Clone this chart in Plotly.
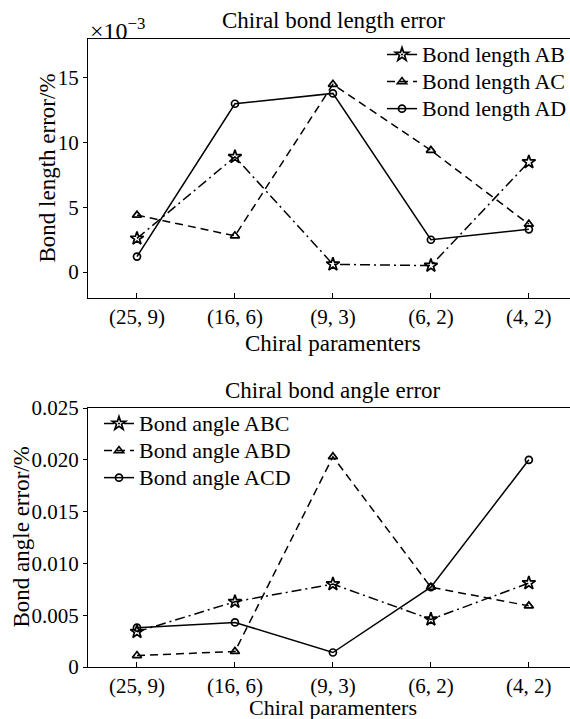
import plotly.graph_objects as go

# ---------------- data ----------------
categories = ["(25, 9)", "(16, 6)", "(9, 3)", "(6, 2)", "(4, 2)"]

# bond length errors, in units of 10^-3 %
length_AB = [2.6, 8.9, 0.6, 0.5, 8.5]
length_AC = [4.4, 2.8, 14.5, 9.4, 3.7]
length_AD = [1.2, 13.0, 13.8, 2.5, 3.3]

# bond angle errors, in %
angle_ABC = [0.0034, 0.0063, 0.0080, 0.0046, 0.0081]
angle_ABD = [0.0011, 0.0015, 0.0203, 0.0077, 0.0059]
angle_ACD = [0.0038, 0.0043, 0.0014, 0.0077, 0.0200]

length_names = ["Bond length AB", "Bond length AC", "Bond length AD"]
angle_names = ["Bond angle ABC", "Bond angle ABD", "Bond angle ACD"]

top_ticks = [0, 5, 10, 15]
top_ticktext = ["0", "5", "10", "15"]
bot_ticks = [0, 0.005, 0.010, 0.015, 0.020, 0.025]
bot_ticktext = ["0", "0.005", "0.010", "0.015", "0.020", "0.025"]

FONT = "Liberation Serif"
FS_TICK = 21
FS_TEXT = 23
FS_LEG = 22
LW = 1.5

# ---------------- figure ----------------
W, H = 570, 719
ML, MR, MT, MB = 88, 0, 39, 52
PW, PH = W - ML - MR, H - MT - MB


def px_x(p):
    return (p - ML) / PW


def px_y(p):
    return (H - MB - p) / PH


def leg_label(s):
    return "<span style='font-size:%dpx'>%s</span>" % (FS_LEG, s)


fig = go.Figure()

styles = [
    ("10px,4px,2px,4px", "star-open", 10),
    ("8px,5px", "triangle-up-open", 8),
    ("solid", "circle-open", 7),
]

for name, vals, (dash, sym, ms) in zip(
        length_names, [length_AB, length_AC, length_AD], styles):
    fig.add_trace(go.Scatter(
        x=categories, y=vals, name=leg_label(name), mode="lines+markers",
        line=dict(color="black", width=LW, dash=dash),
        marker=dict(symbol=sym, size=ms, color="black",
                    line=dict(color="black", width=1.7)),
        xaxis="x", yaxis="y", legend="legend"))

for name, vals, (dash, sym, ms) in zip(
        angle_names, [angle_ABC, angle_ABD, angle_ACD], styles):
    fig.add_trace(go.Scatter(
        x=categories, y=vals, name=leg_label(name), mode="lines+markers",
        line=dict(color="black", width=LW, dash=dash),
        marker=dict(symbol=sym, size=ms, color="black",
                    line=dict(color="black", width=1.7)),
        xaxis="x2", yaxis="y2", legend="legend2"))

top_dom = [px_y(298), 1.0]
bot_dom = [0.0, px_y(408)]

axis_common = dict(showgrid=False, zeroline=False, showline=True,
                   linecolor="black", linewidth=1.2, tickcolor="black",
                   automargin=False,
                   tickfont=dict(family=FONT, size=FS_TICK, color="black"))

leg_common = dict(xanchor="left", yanchor="top", bgcolor="rgba(0,0,0,0)",
                  borderwidth=0, tracegroupgap=0,
                  font=dict(family=FONT, size=18.5, color="black"))

fig.update_layout(
    width=W, height=H,
    margin=dict(l=ML, r=MR, t=MT, b=MB, autoexpand=False),
    paper_bgcolor="white", plot_bgcolor="white",
    font=dict(family=FONT, size=FS_TEXT, color="black"),
    xaxis=dict(domain=[0, 1], anchor="y", type="category",
               range=[-0.5, 4.42], ticks="inside", ticklen=5,
               mirror=True, **axis_common),
    yaxis=dict(domain=top_dom, anchor="x", range=[-2, 18],
               tickvals=top_ticks, ticktext=top_ticktext,
               ticks="outside", ticklen=4, **axis_common),
    xaxis2=dict(domain=[0, 1], anchor="y2", type="category",
                range=[-0.5, 4.42], ticks="inside", ticklen=5,
                mirror=True, **axis_common),
    yaxis2=dict(domain=bot_dom, anchor="x2", range=[0, 0.025],
                tickvals=bot_ticks, ticktext=bot_ticktext,
                ticks="outside", ticklen=4, **axis_common),
    legend=dict(x=px_x(382), y=px_y(36), **leg_common),
    legend2=dict(x=px_x(99), y=px_y(405), **leg_common),
    showlegend=True,
)

ann_font = dict(family=FONT, size=FS_TEXT, color="black")
cx = px_x(333)
annotations = [
    dict(text="Chiral bond length error", x=cx, y=px_y(20)),
    dict(text="×10<sup>−3</sup>", x=0.0, y=px_y(29), xanchor="left",
         font=dict(family=FONT, size=24, color="black")),
    dict(text="Chiral paramenters", x=cx, y=px_y(343)),
    dict(text="Chiral bond angle error", x=cx, y=px_y(390)),
    dict(text="Chiral paramenters", x=cx, y=px_y(707),
         font=dict(family=FONT, size=22, color="black")),
    dict(text="Bond length error/%", x=px_x(47), y=px_y(168.5), textangle=-90),
    dict(text="Bond angle error/%", x=px_x(21), y=px_y(537.5), textangle=-90),
]
for a in annotations:
    a.setdefault("xanchor", "center")
    a.setdefault("font", ann_font)
    a.update(xref="paper", yref="paper", yanchor="middle", showarrow=False)
fig.update_layout(annotations=annotations)

fig.write_html(
    "out.html",
    config={"displayModeBar": False},
    post_script="document.body.style.margin='0px';"
                "document.body.style.overflow='hidden';",
)
